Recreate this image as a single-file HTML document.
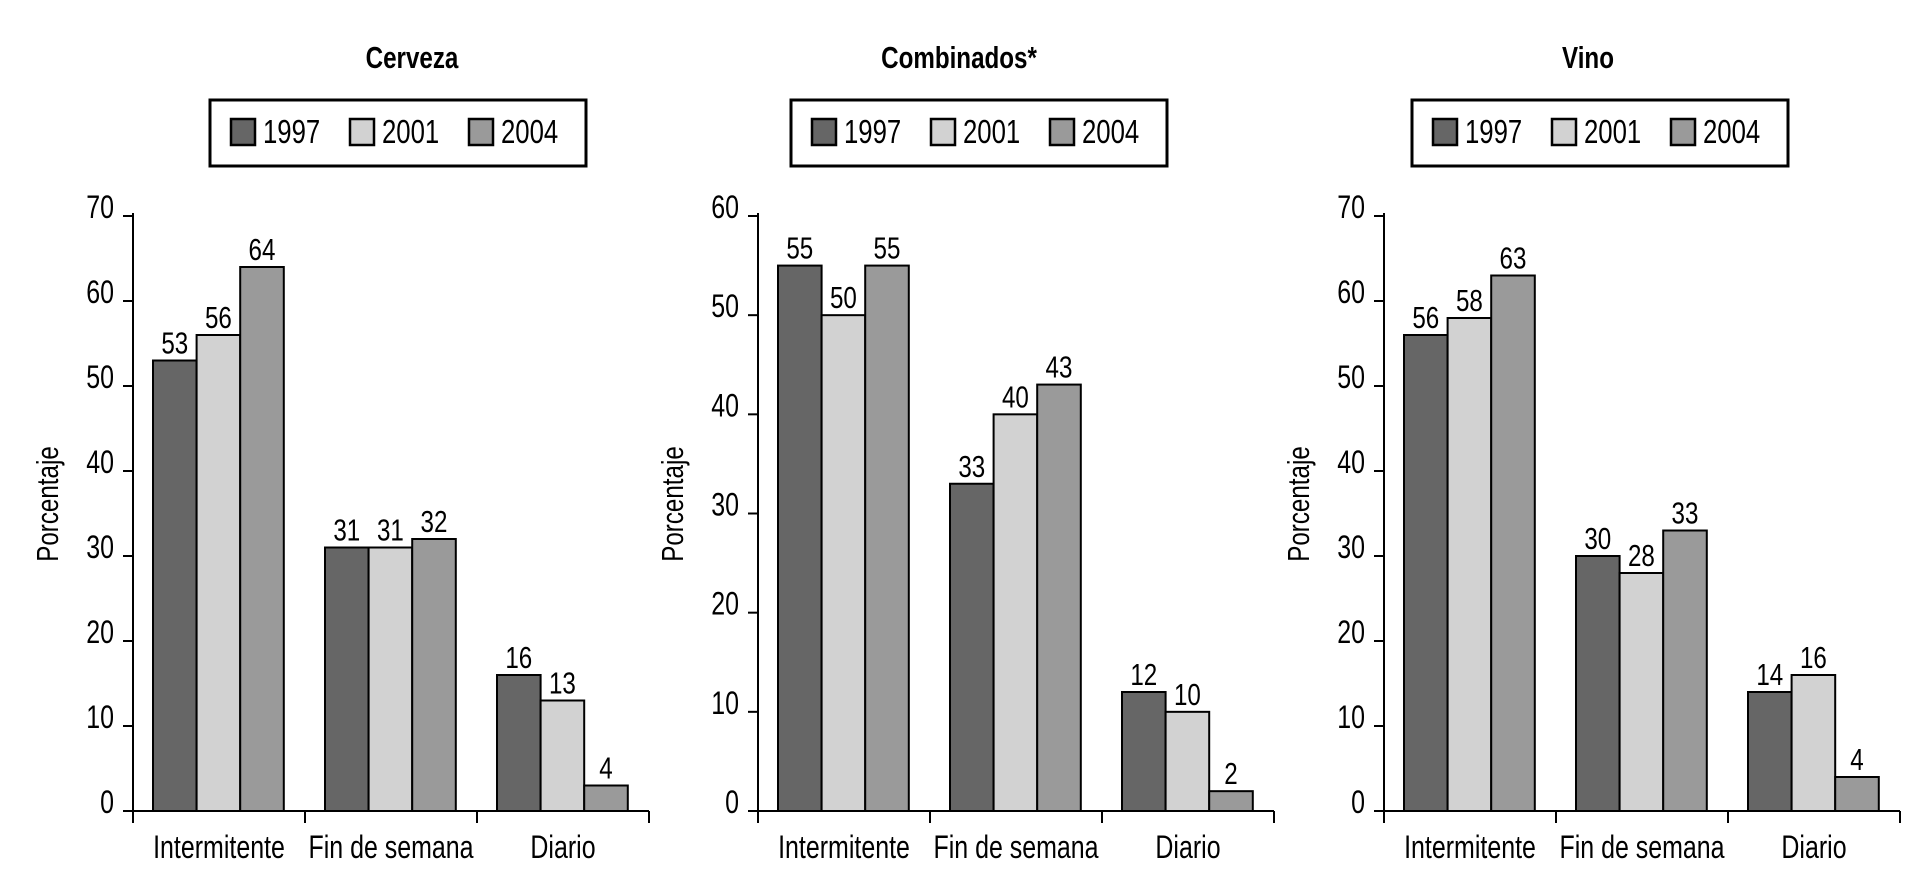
<!DOCTYPE html>
<html><head><meta charset="utf-8"><style>
html,body{margin:0;padding:0;background:#fff;}
svg{display:block;font-family:"Liberation Sans Narrow","Liberation Sans",sans-serif;}
</style></head><body>
<svg id="c" width="1927" height="896" viewBox="0 0 1927 896"></svg>
<script>
const categories = ["Intermitente","Fin de semana","Diario"];
const years = ["1997","2001","2004"];
const titles = ["Cerveza","Combinados*","Vino"];
const maxima = [70,60,70];
const cerveza = [[53,31,16],[56,31,13],[64,32,3]];
const cervezaLabels = [["53","31","16"],["56","31","13"],["64","32","4"]];
const combinados = [[55,33,12],[50,40,10],[55,43,2]];
const combinadosLabels = [["55","33","12"],["50","40","10"],["55","43","2"]];
const vino = [[56,30,14],[58,28,16],[63,33,4]];
const vinoLabels = [["56","30","14"],["58","28","16"],["63","33","4"]];
const colors = ["#666666","#d2d2d2","#9a9a9a"];
const svgEl = document.getElementById('c');
const NS = "http://www.w3.org/2000/svg";
function mk(t,a,p){const e=document.createElementNS(NS,t);for(const k in a)e.setAttribute(k,a[k]);(p||svgEl).appendChild(e);return e;}
const SX=0.78;
function txt(p,x,y,s,size,anchor,extra){
  const e=mk('text',Object.assign({x:0,y:0,'text-anchor':anchor||'start','font-size':size,transform:`translate(${x},${y}) scale(${SX},1)`},extra||{}),p);
  e.textContent=s;return e;
}
const panels=[{x0:133,data:cerveza,labels:cervezaLabels},{x0:758,data:combinados,labels:combinadosLabels},{x0:1384,data:vino,labels:vinoLabels}];
const legendX=[210,791,1412];
const titleX=[412,959,1588];
const base=811, plotTop=216, gw=172, bw=43.6, boff=20;
panels.forEach((p,pi)=>{
  const g=mk('g',{});
  
  
  const max=maxima[pi];
  const y=v=>base-(v/max)*(base-plotTop);
  const t=txt(g,titleX[pi],68,titles[pi],31,'middle',{'font-weight':'bold'});
  
  
  const lx=legendX[pi];
  const lb=mk('rect',{x:lx,y:100,width:376,height:66,fill:'#fff',stroke:'#000','stroke-width':3},g);
  
  
  years.forEach((yr,i)=>{
    const sx=lx+21+i*119;
    const s=mk('rect',{x:sx,y:119,width:24,height:26,fill:colors[i],stroke:'#000','stroke-width':2.5},g);
    
    
    const lt=txt(g,sx+32,143,yr,33,'start');
    
    
  });
  const ya=mk('line',{x1:p.x0,y1:plotTop-3,x2:p.x0,y2:base+12,stroke:'#000','stroke-width':2},g);
  
  
  const xa=mk('line',{x1:p.x0,y1:base,x2:p.x0+3*gw,y2:base,stroke:'#000','stroke-width':2},g);
  
  
  for(let v=0;v<=max;v+=10){
    mk('line',{x1:p.x0-10,y1:y(v),x2:p.x0,y2:y(v),stroke:'#000','stroke-width':2},g);
    const tl=txt(g,p.x0-19,y(v)+2,String(v),32,'end');
    
    
  }
  const yl=mk('text',{x:0,y:0,'text-anchor':'middle','font-size':31,transform:`translate(${p.x0-75},504) rotate(-90) scale(${SX},1)`},g);yl.textContent='Porcentaje';
  
  
  categories.forEach((c,ci)=>{
    const gx=p.x0+ci*gw;
    mk('line',{x1:gx+gw,y1:base,x2:gx+gw,y2:base+12,stroke:'#000','stroke-width':2},g);
    const cl=txt(g,gx+gw/2,858,c,32,'middle');
    
    
    years.forEach((yr,si)=>{
      const v=p.data[si][ci];
      const bx=gx+boff+si*bw;
      const b=mk('rect',{x:bx,y:y(v),width:bw,height:base-y(v),fill:colors[si],stroke:'#000','stroke-width':2},g);
      
      
      const vl=txt(g,bx+bw/2,y(v)-7,p.labels[si][ci],31,'middle');
      
      
    });
  });
});
</script>
</body></html>
